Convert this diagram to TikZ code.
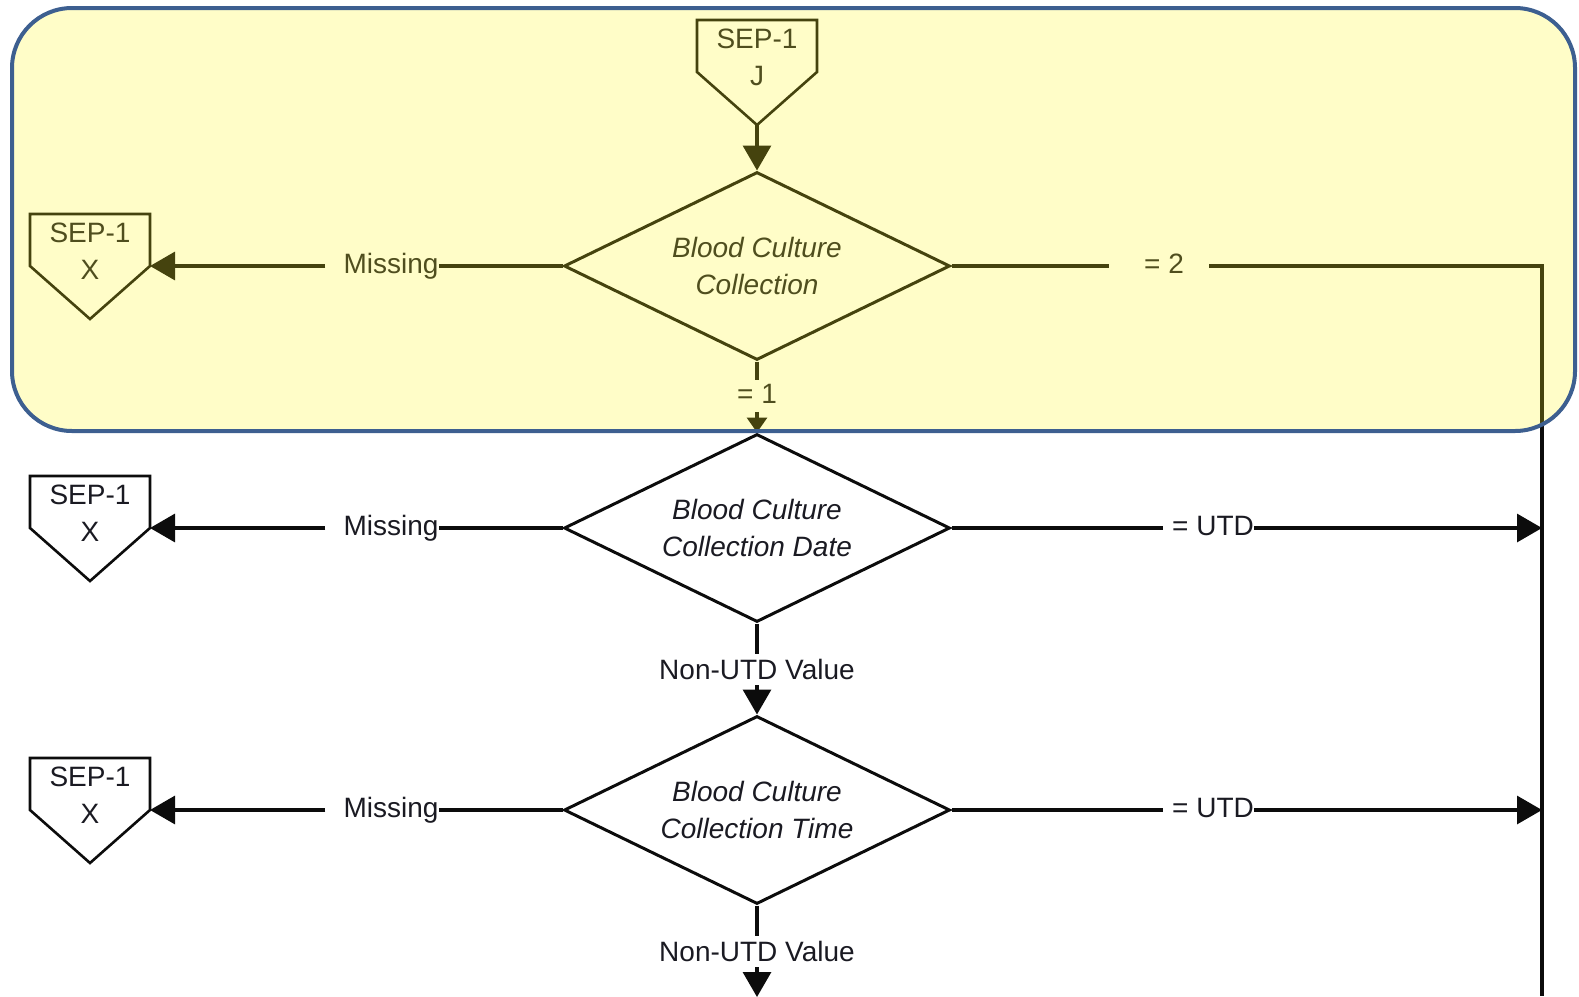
\documentclass[tikz,border=0pt]{standalone}
\usepackage{fontspec}
\setmainfont{Liberation Sans}
\usetikzlibrary{shapes.geometric,arrows.meta,calc}
\definecolor{ink}{HTML}{0C0C0C}
\definecolor{txt}{HTML}{1A1A22}
\definecolor{hilite}{RGB}{255,247,21}
\definecolor{frame}{HTML}{3D5F90}

% off-page connector: pentagon hung around a text node, with named tip and side points
\newcommand\pentframe[1]{%
  \draw[pent] ($(#1)+(-60,-37)$) -- ($(#1)+(60,-37)$) -- ($(#1)+(60,15)$)
    -- ($(#1)+(0,68)$) -- ($(#1)+(-60,15)$) -- cycle;
  \coordinate (#1-tip) at ($(#1)+(0,68)$);
  \coordinate (#1-side) at ($(#1)+(60,15)$);
}

\begin{document}
\begin{tikzpicture}[x=1pt,y=-1pt,
  font=\fontsize{28}{37}\selectfont,
  lbl/.style={inner sep=0pt, text=txt},
  offpage/.style={inner sep=0pt, align=center, text=txt},
  pent/.style={draw=ink, line width=2.6pt, line join=miter},
  decision/.style={diamond, draw=ink, line width=3pt, minimum width=386pt,
    minimum height=188pt, aspect=2.06, inner sep=0pt, align=center,
    font=\fontsize{28}{37}\selectfont\itshape, text=txt},
  flow/.style={draw=ink, line width=3.2pt, line join=miter},
  arrow/.style={flow, -{Triangle[length=25pt,width=28pt]}},
  smallarrow/.style={flow, -{Triangle[length=15pt,width=20pt]}}
]
\useasboundingbox (0,0) rectangle (1579,996);

% off-page connectors
\node[offpage] (j) at (757,57) {SEP-1\\J};
\pentframe{j}
\node[offpage] (x1) at (90,251) {SEP-1\\X};
\pentframe{x1}
\node[offpage] (x2) at (90,513) {SEP-1\\X};
\pentframe{x2}
\node[offpage] (x3) at (90,795) {SEP-1\\X};
\pentframe{x3}

% decisions
\node[decision] (d1) at (757,266) {Blood Culture\\Collection};
\node[decision] (d2) at (757,528) {Blood Culture\\Collection Date};
\node[decision] (d3) at (757,810) {Blood Culture\\Collection Time};

% branch labels
\node[lbl] (m1) at (391,266) {Missing};
\node[lbl] (m2) at (391,528) {Missing};
\node[lbl] (m3) at (391,810) {Missing};
\node[lbl] (e2) at (1164,264) {= 2};
\node[lbl] (e1) at (757,394) {= 1};
\node[lbl] (u2) at (1213,526) {= UTD};
\node[lbl] (u3) at (1213,808) {= UTD};
\node[lbl] (n2) at (757,669) {Non-UTD Value};
\node[lbl] (n3) at (757,951) {Non-UTD Value};

% right-hand bus
\coordinate (r1) at (1542,266);
\coordinate (r2) at (1542,528);
\coordinate (r3) at (1542,810);
\coordinate (rb) at (1542,996);
\coordinate (bot) at (757,997);

% connectors
\draw[arrow] (j-tip) -- (d1.north);

\draw[flow] (d1.west) -- (m1.east |- d1.west);
\draw[arrow] ([xshift=-18pt]m1.west |- x1-side) -- (x1-side);
\draw[flow] (d2.west) -- (m2.east |- d2.west);
\draw[arrow] ([xshift=-18pt]m2.west |- x2-side) -- (x2-side);
\draw[flow] (d3.west) -- (m3.east |- d3.west);
\draw[arrow] ([xshift=-18pt]m3.west |- x3-side) -- (x3-side);

\draw[flow] (d1.east) -- ([xshift=-35pt]e2.west |- d1.east);
\draw[flow] ([xshift=25pt]e2.east |- r1) -- (r1) -- (rb);

\draw[flow] (d2.east) -- ([xshift=-9pt]u2.west |- d2.east);
\draw[arrow] (u2.east |- r2) -- (r2);
\draw[flow] (d3.east) -- ([xshift=-9pt]u3.west |- d3.east);
\draw[arrow] (u3.east |- r3) -- (r3);

\draw[flow] (d1.south) -- ([yshift=4pt]e1.north);
\draw[smallarrow] ([yshift=-8pt]e1.south) -- (d2.north);
\draw[flow] (d2.south) -- ([yshift=5pt]n2.north);
\draw[arrow] ([yshift=-6pt]n2.south) -- (d3.north);
\draw[flow] (d3.south) -- ([yshift=5pt]n3.north);
\draw[arrow] ([yshift=-6pt]n3.south) -- (bot);

% highlighted band over the first decision
\fill[hilite, fill opacity=0.235, rounded corners=60pt] (12,8) rectangle (1575,431);
\draw[frame, line width=4pt, rounded corners=60pt] (12,8) rectangle (1575,431);
\end{tikzpicture}
\end{document}
